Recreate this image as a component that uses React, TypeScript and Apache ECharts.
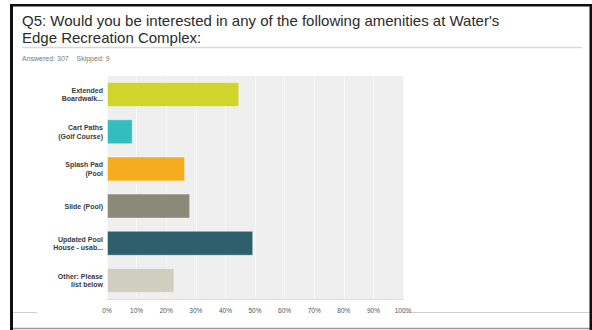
import React, { useEffect, useRef } from "react";
import * as echarts from "echarts";

const categories = [
  "Extended\nBoardwalk...",
  "Cart Paths\n(Golf Course)",
  "Splash Pad\n(Pool",
  "Slide (Pool)",
  "Updated Pool\nHouse - usab...",
  "Other: Please\nlist below",
];
const values = [44.7, 8.7, 26.4, 28.1, 49.4, 22.8];
const barColors = ["#cfd52b", "#33bdbf", "#f5ad1f", "#898a78", "#2f5f6c", "#d0cfbf"];
const xTicks = [0, 10, 20, 30, 40, 50, 60, 70, 80, 90, 100];
const titleLines = [
  "Q5: Would you be interested in any of the following amenities at Water's",
  "Edge Recreation Complex:",
];
const subtitle = "Answered: 307    Skipped: 9";

export default function App() {
  const ref = useRef<HTMLDivElement>(null);
  useEffect(() => {
    if (!ref.current) return;
    const chart = echarts.init(ref.current, null, { renderer: "svg" });
    chart.setOption({
      animation: false,
      backgroundColor: "#ffffff",
      grid: {
        left: 107,
        right: 189,
        top: 76,
        bottom: 31,
        show: true,
        backgroundColor: "#efefef",
        borderWidth: 0,
      },
      xAxis: {
        type: "value",
        min: xTicks[0],
        max: xTicks[xTicks.length - 1],
        interval: 10,
        axisLine: { show: true, lineStyle: { color: "#dcdcdc", width: 1 } },
        axisTick: { show: false },
        splitLine: { show: true, lineStyle: { color: "#f8f8f8", width: 1 } },
        axisLabel: {
          formatter: "{value}%",
          fontSize: 6.5,
          color: "#555",
          fontFamily: "Liberation Sans, Arial, sans-serif",
          margin: 8,
        },
      },
      yAxis: {
        type: "category",
        data: categories,
        inverse: true,
        axisLine: { show: false },
        axisTick: { show: false },
        splitLine: { show: false },
        axisLabel: {
          fontSize: 7,
          fontWeight: "bold",
          color: "#3a3a3a",
          lineHeight: 8.5,
          margin: 4,
          align: "right",
          fontFamily: "Liberation Sans, Arial, sans-serif",
        },
      },
      series: [
        {
          type: "bar",
          barWidth: 25,
          data: values.map((v, i) => ({
            value: v,
            itemStyle: {
              color: barColors[i],
              borderColor: "rgba(255,255,255,0.45)",
              borderWidth: 1,
            },
          })),
        },
      ],
      graphic: [
        {
          type: "text",
          left: 22,
          top: 12,
          style: {
            text: titleLines.join("\n"),
            font: "15px 'Liberation Sans', Arial, sans-serif",
            fill: "#2b2b2b",
            lineHeight: 17,
          },
        },
        {
          type: "line",
          shape: { x1: 22, y1: 47.5, x2: 582, y2: 47.5 },
          style: { stroke: "#d8d8d8", lineWidth: 1.5 },
        },
        {
          type: "text",
          left: 22,
          top: 55,
          style: {
            text: subtitle,
            font: "7px 'Liberation Sans', Arial, sans-serif",
            fill: "#777",
          },
        },
        {
          type: "line",
          shape: { x1: 13, y1: 312.5, x2: 37, y2: 312.5 },
          style: { stroke: "#cfcfcf", lineWidth: 1 },
        },
        {
          type: "line",
          shape: { x1: 403, y1: 312.5, x2: 590, y2: 312.5 },
          style: { stroke: "#cfcfcf", lineWidth: 1 },
        },
        {
          type: "line",
          shape: { x1: 10, y1: 328.5, x2: 592, y2: 328.5 },
          style: { stroke: "#999", lineWidth: 1.5 },
        },
        {
          type: "rect",
          shape: { x: 10, y: 4, width: 3, height: 326 },
          style: { fill: "#111" },
        },
        {
          type: "rect",
          shape: { x: 10, y: 4, width: 582, height: 2.5 },
          style: { fill: "#111" },
        },
        {
          type: "rect",
          shape: { x: 589.5, y: 4, width: 2.5, height: 326 },
          style: { fill: "#111" },
        },
      ],
    });
    return () => chart.dispose();
  }, []);
  return (
    <div
      ref={ref}
      style={{ position: "absolute", left: 0, top: 0, width: 592, height: 330 }}
    />
  );
}
